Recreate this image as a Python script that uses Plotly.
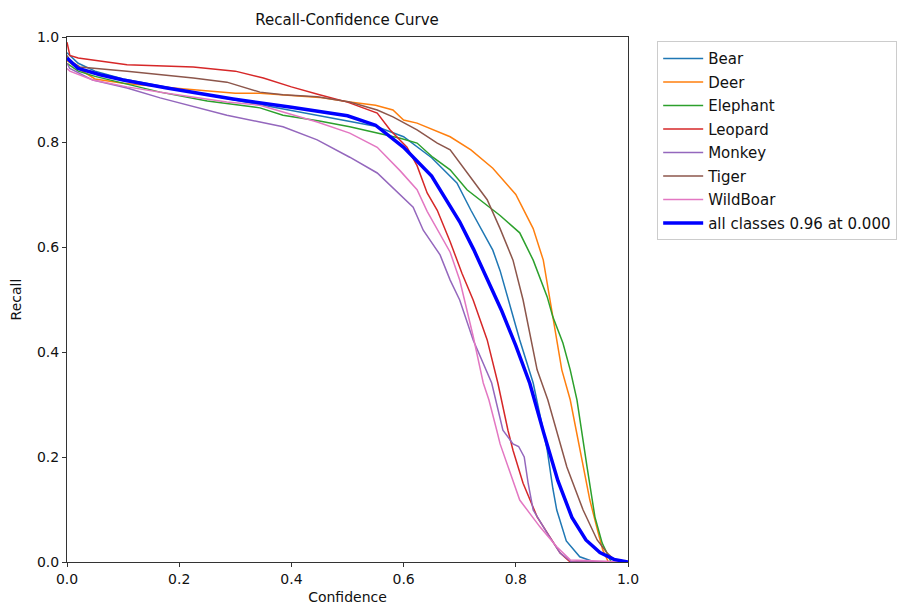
import plotly.graph_objects as go

# ---- data ----
class_names = ["Bear", "Deer", "Elephant", "Leopard", "Monkey", "Tiger", "WildBoar"]
class_colors = ["#1f77b4", "#ff7f0e", "#2ca02c", "#d62728", "#9467bd", "#8c564b", "#e377c2"]

conf_bear = [0, 0.02, 0.05, 0.1, 0.2, 0.3, 0.4, 0.5, 0.55, 0.6, 0.65, 0.695, 0.72, 0.759, 0.772, 0.807, 0.831, 0.845, 0.856, 0.866, 0.873, 0.89, 0.914, 0.94, 1.0]
recall_bear = [0.97, 0.95, 0.935, 0.92, 0.9, 0.88, 0.86, 0.84, 0.83, 0.81, 0.77, 0.722, 0.67, 0.594, 0.555, 0.423, 0.341, 0.27, 0.213, 0.14, 0.099, 0.04, 0.01, 0.0, 0.0]

conf_deer = [0, 0.02, 0.05, 0.1, 0.2, 0.3, 0.344, 0.45, 0.504, 0.55, 0.581, 0.6, 0.624, 0.683, 0.72, 0.759, 0.8, 0.831, 0.849, 0.861, 0.873, 0.882, 0.897, 0.914, 0.932, 0.947, 0.955, 0.965, 1.0]
recall_deer = [0.955, 0.94, 0.92, 0.912, 0.902, 0.893, 0.893, 0.885, 0.876, 0.87, 0.861, 0.842, 0.836, 0.81, 0.785, 0.75, 0.70, 0.635, 0.575, 0.499, 0.429, 0.366, 0.309, 0.213, 0.118, 0.055, 0.023, 0.0, 0.0]

conf_elephant = [0, 0.02, 0.05, 0.1, 0.166, 0.25, 0.344, 0.385, 0.45, 0.504, 0.581, 0.594, 0.624, 0.652, 0.683, 0.713, 0.772, 0.807, 0.831, 0.856, 0.866, 0.884, 0.897, 0.909, 0.927, 0.941, 0.954, 0.97, 1.0]
recall_elephant = [0.95, 0.935, 0.925, 0.912, 0.895, 0.878, 0.865, 0.851, 0.84, 0.829, 0.81, 0.807, 0.798, 0.771, 0.747, 0.709, 0.66, 0.627, 0.575, 0.505, 0.467, 0.417, 0.366, 0.309, 0.181, 0.086, 0.036, 0.0, 0.0]

conf_leopard = [0, 0.005, 0.02, 0.046, 0.107, 0.225, 0.3, 0.35, 0.4, 0.45, 0.5, 0.553, 0.576, 0.606, 0.624, 0.642, 0.66, 0.683, 0.704, 0.724, 0.749, 0.768, 0.786, 0.795, 0.813, 0.838, 0.856, 0.879, 0.897, 1.0]
recall_leopard = [0.99, 0.965, 0.96, 0.956, 0.947, 0.943, 0.935, 0.922, 0.905, 0.89, 0.876, 0.855, 0.823, 0.79, 0.755, 0.703, 0.67, 0.61, 0.55, 0.499, 0.423, 0.341, 0.251, 0.213, 0.15, 0.086, 0.055, 0.017, 0.0, 0.0]

conf_monkey = [0, 0.005, 0.046, 0.107, 0.166, 0.225, 0.285, 0.344, 0.385, 0.446, 0.504, 0.553, 0.594, 0.617, 0.635, 0.665, 0.683, 0.7, 0.724, 0.757, 0.777, 0.795, 0.805, 0.815, 0.822, 0.831, 0.856, 0.879, 0.9, 1.0]
recall_monkey = [0.95, 0.94, 0.918, 0.903, 0.884, 0.867, 0.851, 0.838, 0.829, 0.804, 0.771, 0.741, 0.70, 0.676, 0.632, 0.585, 0.537, 0.499, 0.423, 0.341, 0.251, 0.225, 0.22, 0.2, 0.15, 0.099, 0.055, 0.017, 0.0, 0.0]

conf_tiger = [0, 0.005, 0.023, 0.107, 0.225, 0.285, 0.344, 0.385, 0.446, 0.504, 0.553, 0.581, 0.624, 0.66, 0.683, 0.713, 0.749, 0.772, 0.795, 0.813, 0.838, 0.857, 0.891, 0.92, 0.945, 0.963, 0.98, 1.0]
recall_tiger = [0.965, 0.955, 0.943, 0.935, 0.922, 0.914, 0.895, 0.89, 0.886, 0.876, 0.861, 0.848, 0.823, 0.798, 0.785, 0.741, 0.69, 0.635, 0.575, 0.499, 0.366, 0.309, 0.181, 0.099, 0.042, 0.017, 0.0, 0.0]

conf_wildboar = [0, 0.005, 0.046, 0.107, 0.178, 0.225, 0.285, 0.344, 0.385, 0.446, 0.504, 0.553, 0.594, 0.624, 0.642, 0.683, 0.7, 0.724, 0.742, 0.752, 0.766, 0.772, 0.807, 0.843, 0.873, 0.897, 1.0]
recall_wildboar = [0.94, 0.935, 0.918, 0.905, 0.893, 0.886, 0.876, 0.87, 0.857, 0.838, 0.817, 0.79, 0.745, 0.709, 0.668, 0.59, 0.537, 0.43, 0.341, 0.309, 0.251, 0.225, 0.118, 0.067, 0.029, 0.004, 0.0]

conf_all = [0, 0.02, 0.059, 0.1, 0.178, 0.296, 0.4, 0.5, 0.55, 0.6, 0.65, 0.7, 0.725, 0.75, 0.775, 0.8, 0.825, 0.85, 0.875, 0.9, 0.925, 0.95, 0.975, 1.0]
recall_all = [0.96, 0.94, 0.928, 0.918, 0.903, 0.882, 0.866, 0.85, 0.832, 0.79, 0.735, 0.648, 0.595, 0.537, 0.478, 0.412, 0.34, 0.245, 0.155, 0.085, 0.042, 0.018, 0.005, 0.0]

all_label = "all classes 0.96 at 0.000"
tick_vals = [0.0, 0.2, 0.4, 0.6, 0.8, 1.0]
tick_text = ["0.0", "0.2", "0.4", "0.6", "0.8", "1.0"]

class_conf = [conf_bear, conf_deer, conf_elephant, conf_leopard, conf_monkey, conf_tiger, conf_wildboar]
class_recall = [recall_bear, recall_deer, recall_elephant, recall_leopard, recall_monkey, recall_tiger, recall_wildboar]

FONT = "DejaVu Sans"
TXT = "#111111"

fig = go.Figure()
for i, (name, col, cx, ry) in enumerate(zip(class_names, class_colors, class_conf, class_recall)):
    fig.add_trace(go.Scatter(x=cx, y=ry, mode="lines", name=name,
                             line=dict(color=col, width=1.5),
                             legendgroup=f"g{i}"))
fig.add_trace(go.Scatter(x=conf_all, y=recall_all, mode="lines", name=all_label,
                         line=dict(color="#0000ff", width=3.5),
                         legendgroup="gall"))

axis_common = dict(range=[0, 1], tickvals=tick_vals, ticktext=tick_text,
                   showgrid=False, zeroline=False, showline=True, mirror=True,
                   automargin=False,
                   linecolor="#333333", linewidth=1, ticks="outside", ticklen=4,
                   tickcolor="#333333", tickfont=dict(family=FONT, size=14, color=TXT))

fig.update_layout(
    width=909, height=609,
    margin=dict(l=67, r=281, t=37, b=47),
    paper_bgcolor="white", plot_bgcolor="white",
    title=dict(text="Recall-Confidence Curve", x=(347) / 909, xanchor="center",
               y=1 - 20 / 609, yanchor="middle",
               font=dict(family=FONT, size=15, color=TXT)),
    xaxis=dict(**axis_common, title=dict(text="Confidence", standoff=6,
                                         font=dict(family=FONT, size=14, color=TXT))),
    yaxis=dict(**axis_common, title=dict(text="Recall", standoff=12,
                                         font=dict(family=FONT, size=14, color=TXT))),
    legend=dict(x=1.052, y=0.992, xanchor="left", yanchor="top",
                bgcolor="rgba(255,255,255,0.9)", bordercolor="#cccccc", borderwidth=1,
                font=dict(family=FONT, size=15, color=TXT),
                tracegroupgap=1, itemwidth=40),
    showlegend=True,
)

fig.write_html("out.html")
